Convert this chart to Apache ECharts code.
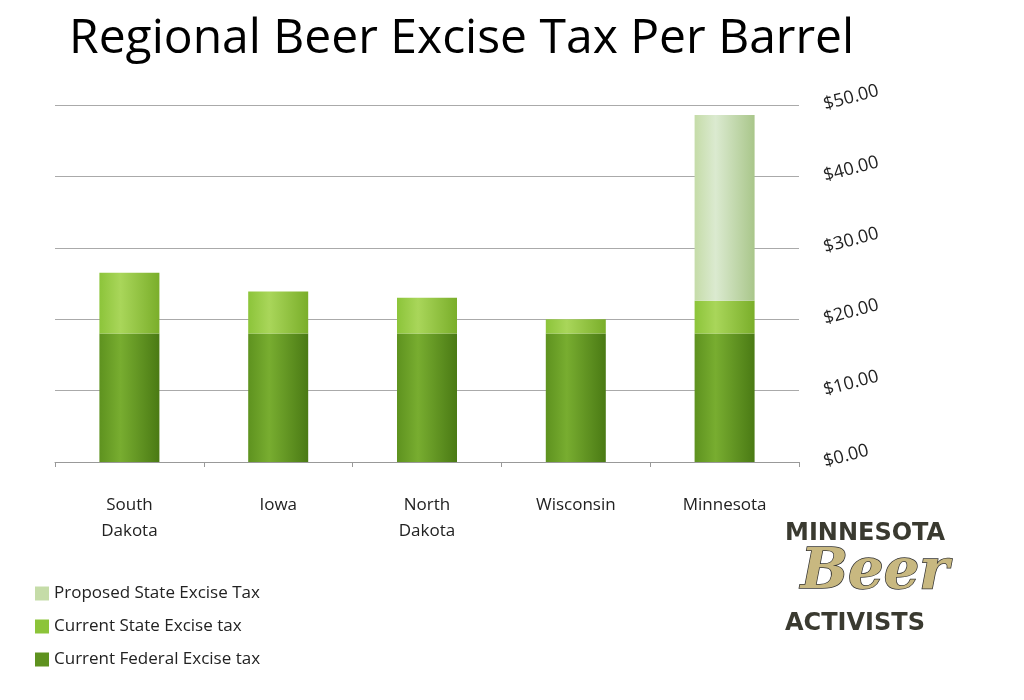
<!DOCTYPE html>
<html><head><meta charset="utf-8">
<script src="https://cdn.jsdelivr.net/npm/echarts@6/dist/echarts.min.js"></script>
<style>html,body{margin:0;background:#fff}#c{width:1024px;height:700px}</style>
</head><body><div id="c"></div>
<script>
const categories = ['South\nDakota', 'Iowa', 'North\nDakota', 'Wisconsin', 'Minnesota'];
const federalTax = [18, 18, 18, 18, 18];
const stateTax = [8.5, 5.89, 5.0, 2.0, 4.6];
const proposedTax = [null, null, null, null, 26];
const yTicks = [0, 10, 20, 30, 40, 50];

function grad(dark, mid, light) {
  return new echarts.graphic.LinearGradient(0, 0, 1, 0, [
    {offset: 0, color: mid}, {offset: 0.35, color: light}, {offset: 1, color: dark}]);
}
const chart = echarts.init(document.getElementById('c'));
chart.setOption({
  animation: false,
  title: {text: 'Regional Beer Excise Tax Per Barrel', left: 64, top: 10,
    textStyle: {fontFamily: 'Open Sans', fontWeight: 'normal', fontSize: 48, color: '#000'}},
  legend: {orient: 'vertical', left: 30, top: 580, itemGap: 16, itemWidth: 14, itemHeight: 14,
    icon: 'rect', textStyle: {fontFamily: 'Open Sans', fontSize: 17, color: '#222'},
    data: [{name: 'Proposed State Excise Tax', itemStyle: {color: '#c5dca8'}},
           {name: 'Current State Excise tax', itemStyle: {color: '#8cc43a'}},
           {name: 'Current Federal Excise tax', itemStyle: {color: '#5e921f'}}]},
  grid: {left: 55, right: 225, top: 105, bottom: 238},
  xAxis: {type: 'category', data: categories,
    axisLine: {lineStyle: {color: '#999'}}, axisTick: {show: true, lineStyle: {color: '#999'}},
    axisLabel: {fontFamily: 'Open Sans', fontSize: 17, color: '#222', lineHeight: 26, margin: 30}},
  yAxis: {type: 'value', position: 'right', min: yTicks[0], max: yTicks[yTicks.length-1], interval: 10,
    axisLine: {show: false}, axisTick: {show: false},
    splitLine: {lineStyle: {color: '#aaa'}},
    axisLabel: {rotate: 15, fontFamily: 'Open Sans', fontSize: 18, color: '#222', margin: 25,
      formatter: v => '$' + v.toFixed(2)}},
  series: [
    {name: 'Current Federal Excise tax', type: 'bar', stack: 't', data: federalTax, barWidth: 60,
      itemStyle: {color: grad('#4a7a14', '#5e921f', '#78ad30')}},
    {name: 'Current State Excise tax', type: 'bar', stack: 't', data: stateTax,
      itemStyle: {color: grad('#7aae2a', '#8cc43a', '#a9d65a')}},
    {name: 'Proposed State Excise Tax', type: 'bar', stack: 't', data: proposedTax,
      itemStyle: {color: grad('#a9c68a', '#c5dca8', '#dbead0')}}
  ],
  graphic: [
    {type: 'text', left: 785, top: 522, style: {text: 'MINNESOTA', font: 'bold 24px "DejaVu Sans"', fill: '#3a3a30'}},
    {type: 'text', left: 800, top: 545, style: {text: 'Beer', font: 'italic bold 56px "DejaVu Serif"', fill: '#c8b880', stroke: '#333', lineWidth: 1.5}},
    {type: 'text', left: 785, top: 612, style: {text: 'ACTIVISTS', font: 'bold 24px "DejaVu Sans"', fill: '#3a3a30'}}
  ]
});
</script></body></html>
